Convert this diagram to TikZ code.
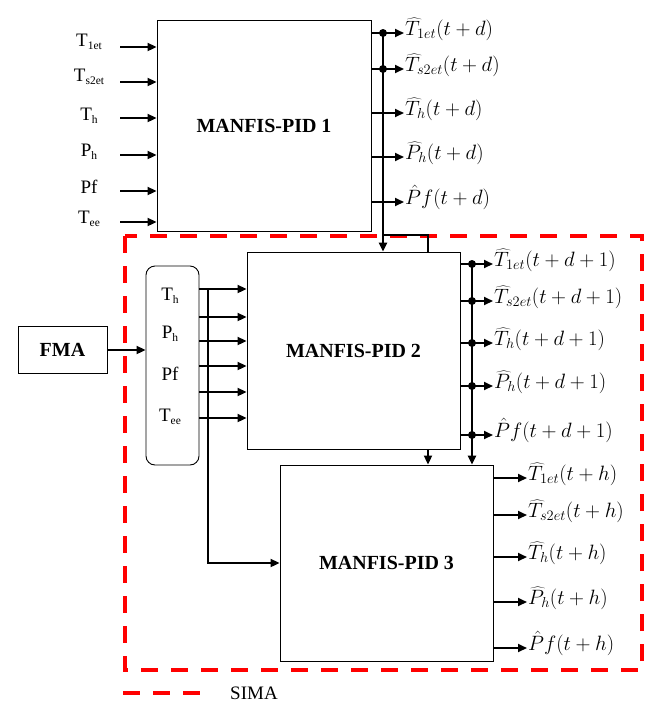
\documentclass[tikz,border=0pt]{standalone}
\usepackage{fontspec}
\setmainfont{Liberation Serif}
\usetikzlibrary{arrows.meta}
\newcommand{\lsub}[1]{\raisebox{-3pt}{\fontsize{11.5}{11.5}\selectfont #1}}
\begin{document}
\begin{tikzpicture}[x=1pt,y=-1pt,
  box/.style={draw, line width=0.9pt, inner sep=0pt, font=\fontsize{20}{20}\selectfont\bfseries},
  arr/.style={line width=2pt, -{Triangle[length=9pt,width=8pt]}},
  wire/.style={line width=2pt},
  bus/.style={line width=2.4pt, -{Triangle[length=9pt,width=8pt]}},
  dot/.style={circle, fill, inner sep=0pt, minimum size=8pt},
  inlab/.style={inner sep=0pt, font=\fontsize{19}{19}\selectfont},
  outlab/.style={anchor=mid west, inner sep=1pt, font=\fontsize{20}{20}\selectfont},
  sima/.style={red, line width=4pt, dash pattern=on 17pt off 13pt}]
\useasboundingbox (0,0) rectangle (652,702);
% SIMA frame and legend
\draw[sima] (125,236) rectangle (642,670);
\coordinate (lg1) at (123,693);
\coordinate (lg2) at (202,693);
\draw[sima] (lg1) -- (lg2);
\node[inlab] (sima) at (254,693) {SIMA};
% boxes
\node[box, minimum width=214pt, minimum height=211pt] (p1) at (264,125.5) {MANFIS-PID 1};
\node[box, minimum width=213pt, minimum height=197pt] (p2) at (353.5,350.5) {MANFIS-PID 2};
\node[box, minimum width=213pt, minimum height=196pt] (p3) at (386.5,563) {MANFIS-PID 3};
\node[draw, line width=0.9pt, rounded corners=9pt, minimum width=53pt, minimum height=199pt] (rb) at (172.5,365.5) {};
\node[box, minimum width=89pt, minimum height=47pt] (fma) at (62.5,350) {FMA};
% inputs of PID 1
\foreach \n/\t/\ya/\yl in {1/T\lsub{1et}/47/42, 2/T\lsub{s2et}/82/77, 3/T\lsub{h}/118/116, 4/P\lsub{h}/155/152, 5/Pf/191/187, 6/T\lsub{ee}/222/219}{
  \node[inlab] (i\n) at (89,\yl) {\t};
  \coordinate (s\n) at (120,\ya);
  \draw[arr] (s\n) -- (s\n -| p1.west);
}
% outputs of PID 1
\foreach \n/\y/\t in {1/33/{$\widehat{T}_{1et}(t+d)$}, 2/69/{$\widehat{T}_{s2et}(t+d)$}, 3/113/{$\widehat{T}_{h}(t+d)$}, 4/157/{$\widehat{P}_{h}(t+d)$}, 5/202/{$\hat{P}f(t+d)$}}{
  \coordinate (o\n) at (404,\y);
  \draw[arr] (o\n -| p1.east) -- (o\n);
  \node[outlab] (ol\n) at (o\n) {\t};
}
\coordinate (bt1) at (383,33);
\coordinate (br1) at (383,235);
\coordinate (br2) at (428,235);
\draw[bus] (bt1) -- (bt1 |- p2.north);
\node[dot] (d11) at (383,33) {};
\node[dot] (d12) at (383,69) {};
\draw[wire] (br1) -- (br2) -- (br2 |- p2.north);
% inputs of PID 2 from rounded box
\foreach \n/\y in {1/289, 2/317, 3/341, 4/366, 5/392, 6/418}{
  \coordinate (j\n) at (208,\y);
  \draw[arr] (j\n -| rb.east) -- (j\n -| p2.west);
}
\draw[arr] (j1) |- (p3.west);
\foreach \n/\t/\y in {1/T\lsub{h}/296, 2/P\lsub{h}/334, 3/Pf/374, 4/T\lsub{ee}/417}{
  \node[inlab] (r\n) at (170,\y) {\t};
}
\draw[arr] (fma.east) -- (fma.east -| rb.west);
% outputs of PID 2
\foreach \n/\y/\t in {1/264/{$\widehat{T}_{1et}(t+d+1)$}, 2/301/{$\widehat{T}_{s2et}(t+d+1)$}, 3/343/{$\widehat{T}_{h}(t+d+1)$}, 4/386/{$\widehat{P}_{h}(t+d+1)$}, 5/435/{$\hat{P}f(t+d+1)$}}{
  \coordinate (q\n) at (493,\y);
  \draw[arr] (q\n -| p2.east) -- (q\n);
  \node[outlab] (ql\n) at (q\n) {\t};
  \node[dot] (d2\n) at (472,\y) {};
}
\coordinate (bt2) at (472,264);
\draw[bus] (bt2) -- (bt2 |- p3.north);
\draw[arr] (br2 |- p2.south) -- (br2 |- p3.north);
% outputs of PID 3
\foreach \n/\y/\t in {1/478/{$\widehat{T}_{1et}(t+h)$}, 2/515/{$\widehat{T}_{s2et}(t+h)$}, 3/557/{$\widehat{T}_{h}(t+h)$}, 4/602/{$\widehat{P}_{h}(t+h)$}, 5/648/{$\hat{P}f(t+h)$}}{
  \coordinate (u\n) at (527,\y);
  \draw[arr] (u\n -| p3.east) -- (u\n);
  \node[outlab] (ul\n) at (u\n) {\t};
}
\end{tikzpicture}
\end{document}
